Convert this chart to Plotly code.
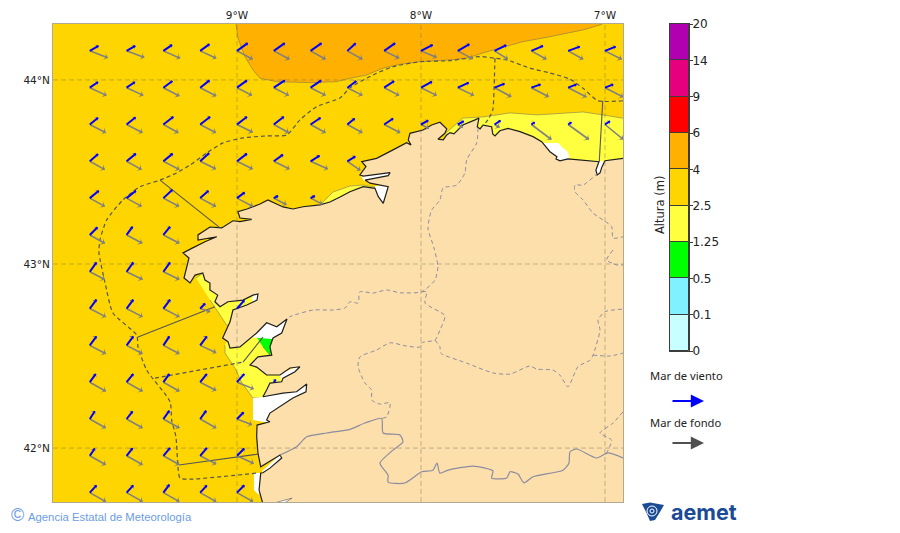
import math
import plotly.graph_objects as go

W, H = 900, 533

# map window, degrees
lon_range = [-10.0, -6.902]
lat_range = [41.707, 44.304]
lon_ticks = [-9, -8, -7]
lon_labels = ['9°W', '8°W', '7°W']
lat_ticks = [42, 43, 44]
lat_labels = ['42°N', '43°N', '44°N']

# colour scale
levels = ['0', '0.1', '0.5', '1.25', '2.5', '4', '6', '9', '14', '20']
level_colors = ['#C8FFFF', '#80F2FF', '#00FF00', '#FFFF40', '#FFD500',
                '#FFB000', '#FF0000', '#E6007E', '#B000B0']

# coast, running west from the right edge and then south
coast = [(-6.900, 43.574), (-6.956, 43.565), (-7.000, 43.561), (-7.016, 43.529), (-7.027, 43.495),
         (-7.043, 43.484), (-7.049, 43.511), (-7.033, 43.556), (-7.119, 43.565), (-7.201, 43.571),
         (-7.245, 43.561), (-7.266, 43.571), (-7.261, 43.583), (-7.299, 43.610), (-7.344, 43.665),
         (-7.391, 43.692), (-7.462, 43.719), (-7.527, 43.737), (-7.571, 43.724), (-7.598, 43.696),
         (-7.610, 43.707), (-7.616, 43.746), (-7.663, 43.755), (-7.679, 43.734), (-7.694, 43.746),
         (-7.685, 43.793), (-7.706, 43.783), (-7.772, 43.755), (-7.821, 43.707), (-7.842, 43.714),
         (-7.860, 43.701), (-7.879, 43.674), (-7.908, 43.678), (-7.870, 43.710), (-7.860, 43.734),
         (-7.897, 43.770), (-7.942, 43.755), (-7.989, 43.728), (-8.060, 43.710), (-8.069, 43.674),
         (-8.054, 43.647), (-8.078, 43.659), (-8.152, 43.620), (-8.241, 43.574), (-8.322, 43.556),
         (-8.299, 43.529), (-8.332, 43.484), (-8.314, 43.478), (-8.168, 43.496), (-8.178, 43.480),
         (-8.304, 43.456), (-8.277, 43.439), (-8.178, 43.420), (-8.205, 43.330), (-8.232, 43.366),
         (-8.250, 43.411), (-8.314, 43.420), (-8.386, 43.393), (-8.440, 43.364), (-8.495, 43.337),
         (-8.549, 43.321), (-8.641, 43.311), (-8.696, 43.299), (-8.750, 43.310), (-8.832, 43.348),
         (-8.875, 43.326), (-8.946, 43.299), (-8.995, 43.284), (-8.984, 43.250), (-8.920, 43.243),
         (-8.984, 43.230), (-9.022, 43.235), (-9.083, 43.196), (-9.147, 43.201), (-9.212, 43.158),
         (-9.212, 43.130), (-9.110, 43.148), (-9.174, 43.121), (-9.246, 43.085), (-9.293, 43.060),
         (-9.261, 43.033), (-9.273, 42.985), (-9.288, 42.924), (-9.255, 42.897), (-9.228, 42.940),
         (-9.186, 42.951), (-9.174, 42.913), (-9.147, 42.897), (-9.147, 42.859), (-9.105, 42.831),
         (-9.120, 42.795), (-9.092, 42.768), (-9.049, 42.795), (-8.967, 42.804), (-8.913, 42.831),
         (-8.886, 42.837), (-8.891, 42.804), (-8.947, 42.777), (-9.022, 42.750), (-9.038, 42.686),
         (-9.065, 42.632), (-9.078, 42.598), (-9.049, 42.578), (-9.038, 42.543), (-8.984, 42.550),
         (-8.929, 42.598), (-8.893, 42.625), (-8.839, 42.681), (-8.784, 42.659), (-8.728, 42.701),
         (-8.757, 42.625), (-8.804, 42.598), (-8.821, 42.550), (-8.811, 42.505), (-8.848, 42.500),
         (-8.886, 42.496), (-8.929, 42.451), (-8.893, 42.440), (-8.839, 42.397), (-8.766, 42.397),
         (-8.712, 42.435), (-8.658, 42.442), (-8.685, 42.415), (-8.750, 42.380), (-8.757, 42.360),
         (-8.821, 42.353), (-8.839, 42.315), (-8.859, 42.279), (-8.750, 42.299), (-8.676, 42.306),
         (-8.621, 42.348), (-8.625, 42.306), (-8.696, 42.272), (-8.766, 42.224), (-8.821, 42.190),
         (-8.839, 42.152), (-8.821, 42.143), (-8.891, 42.125), (-8.893, 42.061), (-8.886, 41.973),
         (-8.871, 41.898), (-8.766, 41.962), (-8.757, 41.946), (-8.821, 41.891), (-8.859, 41.866),
         (-8.871, 41.864), (-8.880, 41.772), (-8.860, 41.700), (-6.890, 41.700), (-6.890, 43.574)]

# wave height contours
orange_zone = [(-9.005, 44.310), (-9.005, 44.304), (-8.995, 44.228), (-8.957, 44.127), (-8.913, 44.054),
               (-8.875, 44.009), (-8.784, 43.991), (-8.603, 43.985), (-8.458, 43.991), (-8.386, 44.009),
               (-8.295, 44.027), (-8.206, 44.064), (-8.114, 44.085), (-8.005, 44.099), (-7.842, 44.109),
               (-7.752, 44.118), (-7.663, 44.147), (-7.571, 44.172), (-7.446, 44.208), (-7.299, 44.235),
               (-7.119, 44.272), (-7.027, 44.299), (-7.000, 44.310)]
yellow_north = [(-7.864, 43.712), (-7.772, 43.793), (-7.663, 43.799), (-7.516, 43.821), (-7.369, 43.810),
                (-7.228, 43.821), (-7.119, 43.826), (-7.011, 43.810), (-6.890, 43.790), (-6.890, 43.500),
                (-7.864, 43.500)]
yellow_ares = [(-8.560, 43.310), (-8.522, 43.348), (-8.478, 43.391), (-8.386, 43.424), (-8.315, 43.429),
               (-8.250, 43.418), (-8.239, 43.321), (-8.560, 43.270)]
yellow_muros = [(-9.223, 42.924), (-9.120, 42.995), (-8.864, 42.886), (-8.864, 42.761), (-9.027, 42.663),
                (-9.056, 42.668), (-9.110, 42.750), (-9.147, 42.804)]
yellow_rias = [(-9.065, 42.560), (-9.065, 42.516), (-9.011, 42.435), (-8.973, 42.353), (-8.913, 42.272),
               (-8.832, 42.272), (-8.739, 42.342), (-8.755, 42.413), (-8.810, 42.587), (-8.902, 42.614),
               (-9.038, 42.614)]
green_zone = [(-8.893, 42.602), (-8.806, 42.602), (-8.821, 42.505), (-8.859, 42.550)]

# sheltered water without data
white_zones = [
    [(-7.337, 43.658), (-7.255, 43.658), (-7.228, 43.630), (-7.201, 43.609), (-7.190, 43.565), (-7.266, 43.554),
     (-7.310, 43.609)],
    [(-7.054, 43.560), (-7.010, 43.560), (-7.010, 43.470), (-7.054, 43.470)],
    [(-8.332, 43.489), (-8.158, 43.505), (-8.168, 43.473), (-8.310, 43.451)],
    [(-8.250, 43.424), (-8.158, 43.435), (-8.190, 43.304), (-8.250, 43.321)],
    [(-8.918, 42.799), (-8.913, 42.842), (-8.875, 42.848), (-8.880, 42.793)],
    [(-8.929, 42.603), (-8.864, 42.668), (-8.712, 42.717), (-8.755, 42.614), (-8.810, 42.592)],
    [(-8.766, 42.402), (-8.647, 42.456), (-8.679, 42.405), (-8.755, 42.348)],
    [(-8.913, 42.272), (-8.859, 42.277), (-8.614, 42.353), (-8.614, 42.299), (-8.821, 42.136), (-8.913, 42.152)],
    [(-8.864, 41.875), (-8.755, 41.973), (-8.745, 41.935), (-8.848, 41.853)],
    [(-8.908, 41.864), (-8.871, 41.864), (-8.880, 41.744), (-8.908, 41.772)],
]
white_sliver = [(-8.804, 41.700), (-8.701, 41.728), (-8.745, 41.700)]

# maritime zones
zone_dashed = [
    [(-6.902, 43.887), (-7.038, 43.887), (-7.119, 43.955), (-7.190, 44.004), (-7.299, 44.038), (-7.408, 44.064),
     (-7.534, 44.109), (-7.598, 44.118), (-7.679, 44.127), (-7.842, 44.105), (-8.005, 44.099), (-8.152, 44.072),
     (-8.261, 44.027), (-8.386, 43.957), (-8.440, 43.902), (-8.567, 43.855), (-8.658, 43.783), (-8.730, 43.701),
     (-8.839, 43.696), (-8.967, 43.685), (-9.076, 43.658), (-9.165, 43.603), (-9.255, 43.538), (-9.328, 43.495),
     (-9.418, 43.456), (-9.527, 43.420), (-9.620, 43.348), (-9.708, 43.239), (-9.745, 43.130), (-9.750, 43.060),
     (-9.717, 42.897), (-9.674, 42.734), (-9.545, 42.614), (-9.538, 42.550), (-9.491, 42.424), (-9.364, 42.252),
     (-9.355, 42.152), (-9.332, 42.061), (-9.321, 41.898), (-9.310, 41.837), (-9.255, 41.831), (-8.893, 41.864)],
    [(-7.598, 44.118), (-7.603, 43.946), (-7.610, 43.837), (-7.636, 43.783), (-7.670, 43.746)],
    [(-9.446, 42.380), (-8.967, 42.467)],
]
zone_solid = [
    [(-9.418, 43.456), (-9.092, 43.196)],
    [(-7.012, 43.887), (-7.031, 43.556)],
    [(-9.538, 42.603), (-9.120, 42.768)],
    [(-8.967, 42.467), (-8.859, 42.603)],
    [(-9.315, 41.908), (-8.886, 41.967)],
]

# inland borders
province_borders = [
    [(-7.690, 43.739), (-7.697, 43.658), (-7.752, 43.565), (-7.761, 43.495), (-7.806, 43.429), (-7.880, 43.413),
     (-7.897, 43.348), (-7.942, 43.293), (-7.962, 43.196), (-7.929, 43.087), (-7.908, 42.985), (-7.924, 42.913),
     (-7.996, 42.849), (-8.114, 42.844), (-8.186, 42.859), (-8.261, 42.842), (-8.332, 42.849), (-8.342, 42.788),
     (-8.386, 42.795), (-8.413, 42.761), (-8.478, 42.750), (-8.587, 42.750), (-8.712, 42.714), (-8.728, 42.701)],
    [(-7.996, 42.849), (-7.969, 42.849), (-7.978, 42.788), (-7.870, 42.719), (-7.897, 42.641), (-7.924, 42.587),
     (-7.996, 42.572), (-8.005, 42.549), (-8.078, 42.554), (-8.168, 42.572), (-8.241, 42.533), (-8.332, 42.495),
     (-8.342, 42.442), (-8.304, 42.353), (-8.268, 42.315), (-8.268, 42.261), (-8.223, 42.239), (-8.168, 42.246),
     (-8.186, 42.170), (-8.214, 42.161)],
    [(-7.924, 42.587), (-7.897, 42.550), (-7.893, 42.516), (-7.752, 42.462), (-7.609, 42.408), (-7.516, 42.402),
     (-7.408, 42.446), (-7.371, 42.429), (-7.283, 42.424), (-7.245, 42.397), (-7.201, 42.333), (-7.147, 42.442),
     (-7.081, 42.478), (-7.065, 42.505), (-7.027, 42.641), (-7.038, 42.696), (-7.000, 42.741), (-6.902, 42.755)],
    [(-7.065, 42.505), (-6.973, 42.500), (-6.902, 42.516)],
    [(-6.902, 42.197), (-6.956, 42.136), (-7.027, 42.082), (-6.964, 42.043), (-6.991, 41.973)],
    [(-7.038, 43.495), (-7.119, 43.429), (-7.163, 43.429), (-7.163, 43.393), (-7.119, 43.348), (-7.065, 43.277),
     (-6.964, 43.203), (-6.956, 43.141), (-6.902, 43.148)],
    [(-6.956, 43.076), (-6.991, 43.022), (-6.936, 42.995), (-6.902, 42.995)],
]
portugal_border = [(-8.766, 41.962), (-8.676, 42.007), (-8.621, 42.061), (-8.512, 42.082), (-8.386, 42.102),
                   (-8.304, 42.136), (-8.214, 42.161), (-8.206, 42.082), (-8.114, 42.071), (-8.098, 42.034),
                   (-8.152, 41.989), (-8.223, 41.918), (-8.179, 41.853), (-8.179, 41.815), (-8.087, 41.810),
                   (-7.996, 41.871), (-7.935, 41.880), (-7.913, 41.918), (-7.897, 41.864), (-7.853, 41.880),
                   (-7.717, 41.902), (-7.609, 41.876), (-7.616, 41.837), (-7.534, 41.837), (-7.516, 41.871),
                   (-7.473, 41.859), (-7.440, 41.811), (-7.391, 41.844), (-7.228, 41.880), (-7.196, 41.918),
                   (-7.190, 41.980), (-7.154, 41.995), (-7.045, 41.946), (-6.984, 41.974), (-6.902, 41.946)]

# wave model grid
grid_lons = [-9.8, -9.6, -9.4, -9.2, -9.0, -8.8, -8.6, -8.4, -8.2, -8.0, -7.8, -7.6, -7.4, -7.2, -7.0]
grid_lats = [44.158, 43.958, 43.758, 43.558, 43.358, 43.158, 42.958, 42.758, 42.558, 42.358, 42.158, 41.958, 41.758]

# arrow components per grid row (land cells dropped from the end of each row)
wind_u = [
    [8.7, 8.7, 8.7, 9.3, 10.7, 11, 11, 8.3, 11, 11.7, 11.7, 11.7, 11.7, 11.7, 10.7],
    [8.3, 8.3, 9, 9.3, 10, 11, 10.7, 9, 10, 11, 11, 10, 9.3, 8.3, 8.3],
    [8.3, 9, 10, 10, 10, 10, 10, 7.3, 9, 7.3, 6, 6, 3.3, 3.3, 5],
    [8.3, 9.3, 9.3, 9, 10, 9.3, 9, 8],
    [9, 9.3, 9, 8.3, 7.7, 4.3, 4.3],
    [7.7, 6, 6.7],
    [6.7, 6.7, 6.7],
    [6.7, 6.7, 6.7, 5, 7.3],
    [6.7, 6.7, 6, 6.7],
    [6, 6.7, 6, 6.7, 7.3, 2],
    [5, 6, 6, 6, 6.7],
    [5, 6, 6.7, 6.7, 7.3],
    [6.7, 6.7, 6, 6.7, 7.3],
]
wind_v = [
    [5, 5, 6, 6.7, 7.7, 7.7, 7.7, 7.7, 7.7, 6, 6.7, 5.7, 5, 4.3, 4.3],
    [5.7, 5.7, 6.7, 7.3, 7.3, 7.3, 7.3, 6.7, 6.7, 6, 5, 4, 3.3, 3.3, 3.3],
    [6.7, 7.3, 7.7, 7.7, 7.7, 7.7, 6.7, 6, 6, 4, 3.3, 4, 2.3, 2.3, 3.3],
    [7.3, 7.7, 7.7, 8.3, 7.7, 6.7, 5.7, 5],
    [7.3, 7.3, 8.3, 7.3, 5.7, 2.3, 2.3],
    [7.7, 8.3, 8.3],
    [9.3, 9.3, 9.3],
    [9, 9, 9, 5, 8.3],
    [9, 9, 9, 9],
    [8.3, 8.3, 8.3, 8.3, 8.3, 2.7],
    [7.7, 7.7, 8.3, 8.3, 6.7],
    [7.3, 7.7, 8, 8, 7.3],
    [7.3, 7.3, 8, 7.3, 7.3],
]
swell_u = [
    [18, 17.7, 16.7, 16, 15.7, 15.7, 15, 15, 15, 15.7, 15, 13.3, 15, 15, 16.7],
    [16.7, 16.7, 16, 16, 15, 15, 15, 15, 15, 15.7, 16, 16.7, 17.3, 18.3, 18.3],
    [16, 16, 15, 15.7, 15.7, 15, 15, 15, 16, 8, 5, 5, 20, 20.7, 18.3],
    [15, 15, 16, 15.7, 15.7, 15.7, 17.3, 13],
    [15, 15, 15.7, 15.7, 16, 12.7, 11.7],
    [15, 15.7, 16],
    [15, 16, 16],
    [16, 16, 16, 10, None],
    [16, 16, 16, 16],
    [16, 16, 16, 16, 16.7, None],
    [16, 16, 16, 16, 15],
    [16, 16, 16, 16, 16.7],
    [16, 16, 16, 16, 16],
]
swell_v = [
    [-7, -6.7, -7.3, -7.3, -8.3, -8.3, -8.3, -8.3, -7.3, -6.7, -8, -8.3, -8.3, -8.3, -8.3],
    [-7.7, -7.7, -8.3, -8.3, -7.7, -7.7, -7.7, -7.7, -7.7, -7.7, -7.7, -9, -9, -9.3, -9.3],
    [-8.3, -8.3, -8.3, -8.3, -7.7, -8.3, -8.3, -8.3, -8.3, -4, -3, -3, -15, -15, -15],
    [-8.3, -8.3, -8.3, -7.7, -7.7, -7.7, -7.7, -9],
    [-8.3, -8.3, -8.3, -8.3, -8.3, -6.7, -6],
    [-8.3, -8.3, -8.3],
    [-7.7, -7.7, -7.7],
    [-8.3, -8.3, -8.3, -3.3, None],
    [-8.3, -8.3, -8.3, -7.3],
    [-9, -9, -9, -8.3, -6.7, None],
    [-9, -9, -9, -9, -5.7],
    [-9, -9, -9, -8.3, -7.7],
    [-9, -9, -9, -9, -9],
]
# one arrow unit on the map, in degrees
arrow_scale = 1 / 184


def px(x):
    return x / W


def py(y):
    return 1 - y / H


def lonlat(points):
    return [p[0] for p in points], [p[1] for p in points]


def add_zone(fig, points, fill, edge='rgba(110,110,90,0.65)', width=0.8):
    xs, ys = lonlat(points)
    fig.add_trace(go.Scatter(x=xs, y=ys, mode='lines', fill='toself', fillcolor=fill,
                             line=dict(color=edge, width=width), hoverinfo='skip'))


def add_lines(fig, paths, color, width, dash='solid', shape='linear'):
    xs, ys = [], []
    for path in paths:
        xs += [p[0] for p in path] + [None]
        ys += [p[1] for p in path] + [None]
    fig.add_trace(go.Scatter(x=xs, y=ys, mode='lines', hoverinfo='skip',
                             line=dict(color=color, width=width, dash=dash, shape=shape, smoothing=0.6)))


def add_arrows(fig, rows_u, rows_v, color, width, size):
    xs, ys, tip_x, tip_y, angles = [], [], [], [], []
    for lat, row_u, row_v in zip(grid_lats, rows_u, rows_v):
        for lon, u, v in zip(grid_lons, row_u, row_v):
            if u is None:
                continue
            end_x = lon + u * arrow_scale
            end_y = lat + v * arrow_scale
            xs += [lon, end_x, None]
            ys += [lat, end_y, None]
            tip_x.append(end_x)
            tip_y.append(end_y)
            angles.append(math.degrees(math.atan2(u, v)))
    fig.add_trace(go.Scatter(x=xs, y=ys, mode='lines', hoverinfo='skip',
                             line=dict(color=color, width=width)))
    fig.add_trace(go.Scatter(x=tip_x, y=tip_y, mode='markers', hoverinfo='skip',
                             marker=dict(symbol='arrow-wide', size=size, angle=angles, color=color,
                                         line=dict(width=0))))


fig = go.Figure()

# sea colours, lowest layer is a rectangle of the gold class
add_zone(fig, [(lon_range[0], lat_range[0]), (lon_range[1], lat_range[0]), (lon_range[1], lat_range[1]),
               (lon_range[0], lat_range[1])], level_colors[4], edge='rgba(0,0,0,0)')
add_zone(fig, orange_zone, level_colors[5])
add_zone(fig, yellow_north, level_colors[3])
add_zone(fig, yellow_ares, level_colors[3])
add_zone(fig, yellow_muros, level_colors[3])
add_zone(fig, yellow_rias, level_colors[3])
add_zone(fig, green_zone, level_colors[2], edge='rgba(0,120,0,0.5)')
for zone in white_zones:
    add_zone(fig, zone, 'white', edge='rgba(255,255,255,0)')

# land and coast
add_zone(fig, coast, '#FDDFAB', edge='#1E1E1E', width=1.2)
add_zone(fig, white_sliver, 'white', edge='#555555', width=0.6)

# borders
add_lines(fig, province_borders, '#8C8CA0', 1, '4px,3px', 'spline')
add_lines(fig, [portugal_border], '#8C8CA0', 1.2, 'solid', 'spline')
add_lines(fig, zone_dashed, '#555555', 1.2, '4px,3px', 'spline')
add_lines(fig, zone_solid, '#555555', 1.1)

# graticule goes over the land
grid_color = 'rgba(110,105,85,0.45)'
add_lines(fig, [[(t, lat_range[0]), (t, lat_range[1])] for t in lon_ticks], grid_color, 0.9, '5px,3px')
add_lines(fig, [[(lon_range[0], t), (lon_range[1], t)] for t in lat_ticks], grid_color, 0.9, '5px,3px')

add_arrows(fig, swell_u, swell_v, '#808080', 1.6, 6)
add_arrows(fig, wind_u, wind_v, '#0000FF', 2, 4)

# colour scale as a stacked column
for i, color in enumerate(level_colors):
    fig.add_trace(go.Bar(x=[0], y=[1], base=i, width=1, marker=dict(color=color, line=dict(color='#3C3C3C', width=1)),
                         xaxis='x2', yaxis='y2', hoverinfo='skip'))

shapes = []
# aemet mark
navy = '#1A4B94'
shapes.append(dict(type='path', xref='paper', yref='paper', fillcolor=navy, line=dict(width=0),
                   path=f'M {px(642)} {py(504)} L {px(650)} {py(502.5)} L {px(664)} {py(505)} L {px(660)} {py(512)} '
                        f'L {px(655)} {py(520)} L {px(650)} {py(521)} L {px(647)} {py(514)} Z'))
for r in [2, 5]:
    shapes.append(dict(type='circle', xref='paper', yref='paper', line=dict(color='white', width=1),
                       x0=px(652 - r), x1=px(652 + r), y0=py(511 + r), y1=py(511 - r)))

text_font = dict(family='Noto Sans, Open Sans, sans-serif', size=11.2, color='#222222')
annotations = [
    dict(text='Altura (m)', x=px(660), y=py(205), textangle=-90, font=dict(family='DejaVu Sans', size=11.5, color='#222222')),
    dict(text='Mar de viento', x=px(686.5), y=py(375.5), font=text_font),
    dict(text='Mar de fondo', x=px(685), y=py(422.5), font=text_font),
    dict(text='', x=px(704), y=py(401), ax=-33, ay=0, showarrow=True,
         arrowcolor='#0000FF', arrowwidth=2.2, arrowhead=2, arrowsize=1.2),
    dict(text='', x=px(704), y=py(443), ax=-33, ay=0, showarrow=True,
         arrowcolor='#505050', arrowwidth=2.2, arrowhead=2, arrowsize=1.2),
    dict(text='©', x=px(17), y=py(515), font=dict(family='Liberation Sans', size=18, color='#6C9CE4')),
    dict(text='Agencia Estatal de Meteorología', x=px(109.5), y=py(516.5),
         font=dict(family='Liberation Sans', size=11.3, color='#6C9CE4')),
    dict(text='<b>aemet</b>', x=px(703.5), y=py(512), font=dict(family='Inter', size=21.5, color=navy)),
]
for a in annotations:
    a.update(xref='paper', yref='paper', xanchor='center', yanchor='middle')
    a.setdefault('showarrow', False)

tick_font = dict(family='DejaVu Sans', size=10.5, color='#222222')
fig.update_layout(
    width=W, height=H, autosize=False,
    margin=dict(l=0, r=0, t=0, b=0),
    paper_bgcolor='white', plot_bgcolor='white',
    showlegend=False, barmode='overlay', bargap=0,
    font=dict(family='DejaVu Sans'),
    shapes=shapes, annotations=annotations,
    xaxis=dict(domain=[px(53), px(623)], range=lon_range, side='top', tickmode='array', automargin=False,
               tickvals=lon_ticks, ticktext=lon_labels, tickfont=tick_font, ticks='',
               showgrid=False, zeroline=False,
               showline=True, mirror=True, linecolor='#B0A890', linewidth=1),
    yaxis=dict(domain=[py(502), py(24)], range=lat_range, tickmode='array', automargin=False,
               tickvals=lat_ticks, ticktext=lat_labels, tickfont=tick_font, ticks='',
               showgrid=False, zeroline=False,
               showline=True, mirror=True, linecolor='#B0A890', linewidth=1),
    xaxis2=dict(domain=[px(670), px(689)], range=[-0.5, 0.5], anchor='y2', showticklabels=False, automargin=False,
                ticks='', showgrid=False, zeroline=False, showline=True, mirror=True,
                linecolor='#3C3C3C', linewidth=1),
    yaxis2=dict(domain=[py(351), py(24)], range=[0, 9], anchor='x2', side='right', tickmode='array', automargin=False,
                tickvals=list(range(10)), ticktext=levels, ticks='outside', ticklen=3, tickcolor='#3C3C3C',
                ticklabelstandoff=-3,
                tickfont=dict(family='DejaVu Sans', size=12, color='#222222'),
                showgrid=False, zeroline=False, showline=True, mirror=True, linecolor='#3C3C3C', linewidth=1),
)

fig.write_html("out.html", config={'displayModeBar': False}, post_script="document.body.style.margin='0'")
